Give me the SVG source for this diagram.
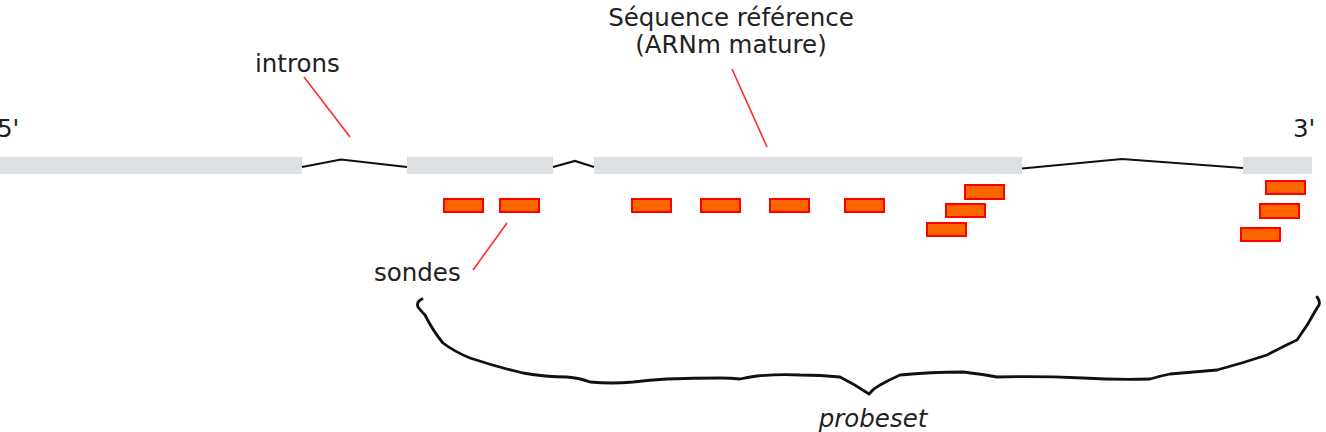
<svg xmlns="http://www.w3.org/2000/svg" width="1326" height="432" viewBox="0 0 1326 432">
<style>
.exon{fill:#dde0e2;stroke:none}
.intron{fill:none;stroke:#111;stroke-width:2.2;stroke-linejoin:miter}
.probe{fill:#ff6600;stroke:#ff0000;stroke-width:2}
.lead{fill:none;stroke:#ff2a2a;stroke-width:1.6}
.lbl{font-family:"DejaVu Sans",sans-serif;font-size:24.5px;fill:#222}
.brace{fill:none;stroke:#111;stroke-width:2.8;stroke-linejoin:round;stroke-linecap:round}
</style>
<rect width="1326" height="432" fill="#fff"/>
<g id="exons">
<g id="exon1"><rect class="exon" x="0" y="157" width="302" height="17"/></g>
<g id="exon2"><rect class="exon" x="407" y="157" width="146" height="17"/></g>
<g id="exon3"><rect class="exon" x="594" y="157" width="428" height="17"/></g>
<g id="exon4"><rect class="exon" x="1243" y="157" width="69" height="17"/></g>
</g>
<g id="probes">
<g id="probe1"><rect class="probe" x="444" y="199" width="39" height="13"/></g>
<g id="probe2"><rect class="probe" x="500" y="199" width="39" height="13"/></g>
<g id="probe3"><rect class="probe" x="632" y="199" width="39" height="13"/></g>
<g id="probe4"><rect class="probe" x="701" y="199" width="39" height="13"/></g>
<g id="probe5"><rect class="probe" x="770" y="199" width="39" height="13"/></g>
<g id="probe6"><rect class="probe" x="845" y="199" width="39" height="13"/></g>
<g id="probe7"><rect class="probe" x="965" y="185" width="39" height="14"/></g>
<g id="probe8"><rect class="probe" x="946" y="204" width="39" height="13"/></g>
<g id="probe9"><rect class="probe" x="927" y="223" width="39" height="13"/></g>
<g id="probe10"><rect class="probe" x="1266" y="181" width="39" height="13"/></g>
<g id="probe11"><rect class="probe" x="1260" y="204" width="39" height="14"/></g>
<g id="probe12"><rect class="probe" x="1241" y="228" width="39" height="13"/></g>
</g>
<g id="connectors">
<path class="intron" d="M302,167 L341,159.5 L407,167"/>
<path class="intron" d="M553,167 L575,161 L594,167"/>
<path class="intron" d="M1022,168.5 L1122,159 L1243,168"/>
<line class="lead" x1="304" y1="77" x2="350" y2="137"/>
<line class="lead" x1="732" y1="69" x2="767" y2="147"/>
<line class="lead" x1="507" y1="223" x2="473" y2="270"/>
</g>
<g id="label-5prime"><text class="lbl" x="-3" y="137">5'</text></g>
<g id="label-3prime"><text class="lbl" x="1293" y="137">3'</text></g>
<g id="label-introns"><text class="lbl" x="255" y="72">introns</text></g>
<g id="label-sequence"><text class="lbl" text-anchor="middle"><tspan x="731" y="26">Séquence référence</tspan><tspan x="731" y="53">(ARNm mature)</tspan></text></g>
<g id="label-sondes"><text class="lbl" x="374" y="281">sondes</text></g>
<g id="brace">
<path class="brace" d="M422,299 Q416,302 418,307 Q421,311 425,315 Q433,331 443,343 Q455,352 470,358 Q497,367 523,373 Q546,377 567,377 Q580,378 590,382 Q612,384 633,382 Q650,380 667,379 Q694,378 720,378 Q731,378 740,379 Q749,377 757,376 Q778,374 800,375 Q821,375 840,377 Q856,385 869,394 Q874,388 880,385 Q889,380 900,375 Q930,372 963,372 Q981,374 997,377 Q1040,376 1083,378 Q1117,380 1150,379 Q1160,376 1170,374 Q1194,372 1217,370 Q1243,363 1267,355 Q1286,345 1297,340 Q1308,325 1317,308 Q1322,303 1317,297"/>
</g>
<g id="label-probeset"><text class="lbl" x="873" y="427" text-anchor="middle" font-style="italic">probeset</text></g>
</svg>
